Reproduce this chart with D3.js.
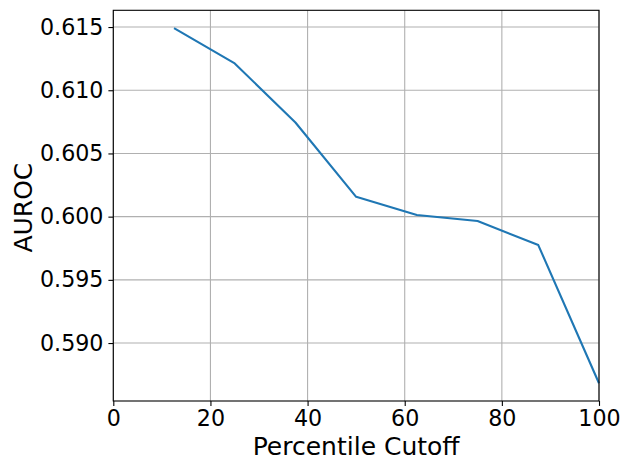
<!DOCTYPE html>
<html>
<head>
<meta charset="utf-8">
<script src="https://cdn.jsdelivr.net/npm/d3@7"></script>
<style>
  body { margin: 0; background: #fff; }
  text { font-family: "DejaVu Sans", sans-serif; fill: #000; }
</style>
</head>
<body>
<div id="container"></div>
<script>
// percentile cutoffs and the AUROC read at each one
var cutoffs = [12.5, 25, 37.5, 50, 62.5, 75, 87.5, 100];
var auroc = [0.61492, 0.61212, 0.60745, 0.60157, 0.60013, 0.59965, 0.59775, 0.58682];
var xTicks = [0, 20, 40, 60, 80, 100];
var yTicks = [0.590, 0.595, 0.600, 0.605, 0.610, 0.615];

var svgWidth = 630, svgHeight = 470;
var margin = { top: 10.3, right: 31, bottom: 69, left: 113.3 },
    width = svgWidth - margin.left - margin.right,
    height = svgHeight - margin.top - margin.bottom;

var svg = d3.select("div#container")
    .append("svg")
    .attr("width", svgWidth)
    .attr("height", svgHeight)
    .append("g")
    .attr("transform", "translate(" + margin.left + "," + margin.top + ")");

var data = cutoffs.map(function (c, i) { return { x: c, y: auroc[i] }; });

// x axis is fixed 0..100, y gets matplotlib's 5% padding
var x = d3.scaleLinear().domain([0, 100]).range([0, width]);
var yMin = d3.min(auroc), yMax = d3.max(auroc), pad = (yMax - yMin) * 0.05;
var y = d3.scaleLinear().domain([yMin - pad, yMax + pad]).range([height, 0]);

// grid
svg.append("g").selectAll("line").data(xTicks).enter().append("line")
    .attr("x1", function (d) { return x(d); }).attr("x2", function (d) { return x(d); })
    .attr("y1", 0).attr("y2", height)
    .attr("stroke", "#b0b0b0").attr("stroke-width", 1.1);
svg.append("g").selectAll("line").data(yTicks).enter().append("line")
    .attr("y1", function (d) { return y(d); }).attr("y2", function (d) { return y(d); })
    .attr("x1", 0).attr("x2", width)
    .attr("stroke", "#b0b0b0").attr("stroke-width", 1.1);

// line
svg.append("path")
    .datum(data)
    .attr("fill", "none")
    .attr("stroke", "#1f77b4")
    .attr("stroke-width", 2.1)
    .attr("stroke-linejoin", "round")
    .attr("d", d3.line().x(function (d) { return x(d.x); }).y(function (d) { return y(d.y); }));

// axes
var xAxis = svg.append("g")
    .attr("transform", "translate(0," + height + ")")
    .call(d3.axisBottom(x).tickValues(xTicks).tickFormat(d3.format("d")).tickSize(4.9).tickPadding(4.5));
var yAxis = svg.append("g")
    .call(d3.axisLeft(y).tickValues(yTicks).tickFormat(d3.format(".3f")).tickSize(4.9).tickPadding(4.9));

[xAxis, yAxis].forEach(function (a) {
    a.select(".domain").remove();
    a.selectAll(".tick line").attr("stroke", "#000").attr("stroke-width", 1.1);
    a.selectAll(".tick text")
        .style("font-family", "DejaVu Sans")
        .style("font-size", "22.2px")
        .attr("fill", "#000");
});

// frame
svg.append("rect")
    .attr("x", 0).attr("y", 0)
    .attr("width", width).attr("height", height)
    .attr("fill", "none").attr("stroke", "#000").attr("stroke-width", 1.1);

// axis labels
svg.append("text")
    .attr("x", width / 2)
    .attr("y", height + 54)
    .attr("text-anchor", "middle")
    .style("font-size", "25px")
    .text("Percentile Cutoff");

svg.append("text")
    .attr("transform", "translate(" + (32 - margin.left) + "," + (y(0.6) - 9) + ") rotate(-90)")
    .attr("text-anchor", "middle")
    .style("font-size", "25px")
    .text("AUROC");
</script>
</body>
</html>
